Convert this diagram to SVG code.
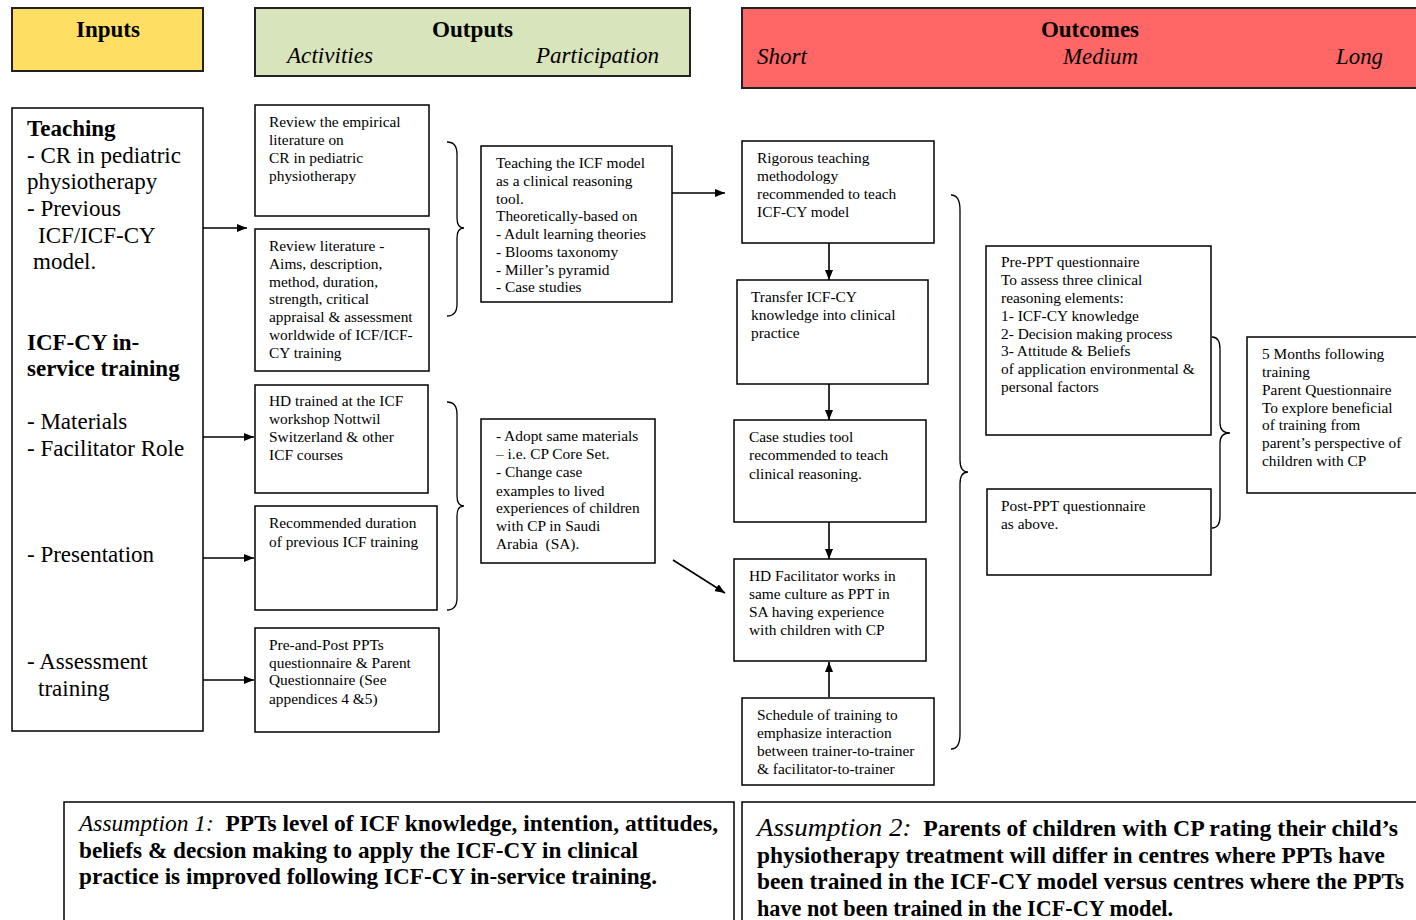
<svg xmlns="http://www.w3.org/2000/svg" width="1416" height="920" viewBox="0 0 1416 920">
<defs>
<marker id="ah" markerWidth="10" markerHeight="8" refX="10" refY="4" orient="auto" markerUnits="userSpaceOnUse">
<path d="M0,0 L10,4 L0,8 Z" fill="#000"/>
</marker>
<style>
.box{fill:#fff;stroke:#000;stroke-width:1.5}
.hdr{stroke:#222;stroke-width:2}
.t{font-family:"Liberation Serif","Times New Roman",serif;font-size:15.4px;fill:#000}
.big{font-family:"Liberation Serif","Times New Roman",serif;font-size:23px;fill:#000}
.bb{font-weight:bold}
.h{font-family:"Liberation Serif","Times New Roman",serif;font-size:24px;fill:#000}
.i{font-style:italic}
.ln{stroke:#000;stroke-width:1.6;fill:none}
.br{stroke:#000;stroke-width:1.3;fill:none}
.as{font-family:"Liberation Serif","Times New Roman",serif;font-size:23px;font-weight:bold;fill:#000}
.pre{white-space:pre}
</style>
</defs>
<rect width="1416" height="920" fill="#fff"/>

<g id="hdr-inputs">
<rect x="12" y="8" width="191" height="63" fill="#FFDF63" class="hdr"/>
<text class="h bb" x="76" y="37" textLength="64" lengthAdjust="spacingAndGlyphs">Inputs</text>
</g>
<g id="hdr-outputs">
<rect x="255" y="8" width="435" height="68" fill="#D8E4BC" class="hdr"/>
<text class="h bb" x="432" y="37" textLength="81" lengthAdjust="spacingAndGlyphs">Outputs</text>
<text class="h i" x="287" y="63" textLength="86" lengthAdjust="spacingAndGlyphs">Activities</text>
<text class="h i" x="536" y="63" textLength="123" lengthAdjust="spacingAndGlyphs">Participation</text>
</g>
<g id="hdr-outcomes">
<rect x="742" y="8" width="690" height="80" fill="#FF6666" class="hdr"/>
<text class="h bb" x="1041" y="37" textLength="98" lengthAdjust="spacingAndGlyphs">Outcomes</text>
<text class="h i" x="757" y="64" textLength="50" lengthAdjust="spacingAndGlyphs">Short</text>
<text class="h i" x="1063" y="64" textLength="75" lengthAdjust="spacingAndGlyphs">Medium</text>
<text class="h i" x="1336" y="64" textLength="47" lengthAdjust="spacingAndGlyphs">Long</text>
</g>

<g id="inputs">
<rect x="12" y="108" width="191" height="623" class="box"/>
<text class="big bb" x="27" y="136">Teaching</text>
<text class="big" x="27" y="163">- CR in pediatric</text>
<text class="big" x="27" y="189">physiotherapy</text>
<text class="big" x="27" y="216">- Previous</text>
<text class="big" x="38" y="243">ICF/ICF-CY</text>
<text class="big" x="33" y="269">model.</text>
<text class="big bb" x="27" y="350">ICF-CY in-</text>
<text class="big bb" x="27" y="376">service training</text>
<text class="big" x="27" y="429">- Materials</text>
<text class="big" x="27" y="456">- Facilitator Role</text>
<text class="big" x="27" y="562">- Presentation</text>
<text class="big" x="27" y="669">- Assessment</text>
<text class="big" x="38" y="696">training</text>
</g>

<g id="act1">
<rect x="255" y="105" width="174" height="111" class="box"/>
<text class="t" x="269" y="127">Review the empirical</text>
<text class="t" x="269" y="145">literature on</text>
<text class="t" x="269" y="163">CR in pediatric</text>
<text class="t" x="269" y="181">physiotherapy</text>
</g>
<g id="act2">
<rect x="255" y="229" width="174" height="142" class="box"/>
<text class="t" x="269" y="251">Review literature -</text>
<text class="t" x="269" y="269">Aims, description,</text>
<text class="t" x="269" y="287">method, duration,</text>
<text class="t" x="269" y="304">strength, critical</text>
<text class="t" x="269" y="322">appraisal &amp; assessment</text>
<text class="t" x="269" y="340">worldwide of ICF/ICF-</text>
<text class="t" x="269" y="358">CY training</text>
</g>
<g id="act3">
<rect x="255" y="385" width="173" height="108" class="box"/>
<text class="t" x="269" y="406">HD trained at the ICF</text>
<text class="t" x="269" y="424">workshop Nottwil</text>
<text class="t" x="269" y="442">Switzerland &amp; other</text>
<text class="t" x="269" y="460">ICF courses</text>
</g>
<g id="act4">
<rect x="255" y="506" width="182" height="104" class="box"/>
<text class="t" x="269" y="528">Recommended duration</text>
<text class="t" x="269" y="547">of previous ICF training</text>
</g>
<g id="act5">
<rect x="255" y="628" width="184" height="104" class="box"/>
<text class="t" x="269" y="650">Pre-and-Post PPTs</text>
<text class="t" x="269" y="668">questionnaire &amp; Parent</text>
<text class="t" x="269" y="685">Questionnaire (See</text>
<text class="t" x="269" y="704">appendices 4 &amp;5)</text>
</g>

<g id="part1">
<rect x="481" y="146" width="191" height="156" class="box"/>
<text class="t" x="496" y="168">Teaching the ICF model</text>
<text class="t" x="496" y="186">as a clinical reasoning</text>
<text class="t" x="496" y="204">tool.</text>
<text class="t" x="496" y="221">Theoretically-based on</text>
<text class="t" x="496" y="239">- Adult learning theories</text>
<text class="t" x="496" y="257">- Blooms taxonomy</text>
<text class="t" x="496" y="275">- Miller’s pyramid</text>
<text class="t" x="496" y="292">- Case studies</text>
</g>
<g id="part2">
<rect x="481" y="419" width="174" height="144" class="box"/>
<text class="t" x="496" y="441">- Adopt same materials</text>
<text class="t" x="496" y="459">– i.e. CP Core Set.</text>
<text class="t" x="496" y="477">- Change case</text>
<text class="t" x="496" y="496">examples to lived</text>
<text class="t" x="496" y="513">experiences of children</text>
<text class="t" x="496" y="531">with CP in Saudi</text>
<text class="t pre" x="496" y="549">Arabia  (SA).</text>
</g>

<g id="short1">
<rect x="742" y="141" width="192" height="102" class="box"/>
<text class="t" x="757" y="163">Rigorous teaching</text>
<text class="t" x="757" y="181">methodology</text>
<text class="t" x="757" y="199">recommended to teach</text>
<text class="t" x="757" y="217">ICF-CY model</text>
</g>
<g id="short2">
<rect x="737" y="280" width="191" height="104" class="box"/>
<text class="t" x="751" y="302">Transfer ICF-CY</text>
<text class="t" x="751" y="320">knowledge into clinical</text>
<text class="t" x="751" y="338">practice</text>
</g>
<g id="short3">
<rect x="734" y="420" width="192" height="102" class="box"/>
<text class="t" x="749" y="442">Case studies tool</text>
<text class="t" x="749" y="460">recommended to teach</text>
<text class="t" x="749" y="479">clinical reasoning.</text>
</g>
<g id="short4">
<rect x="734" y="559" width="192" height="102" class="box"/>
<text class="t" x="749" y="581">HD Facilitator works in</text>
<text class="t" x="749" y="599">same culture as PPT in</text>
<text class="t" x="749" y="617">SA having experience</text>
<text class="t" x="749" y="635">with children with CP</text>
</g>
<g id="short5">
<rect x="742" y="698" width="192" height="87" class="box"/>
<text class="t" x="757" y="720">Schedule of training to</text>
<text class="t" x="757" y="738">emphasize interaction</text>
<text class="t" x="757" y="756">between trainer-to-trainer</text>
<text class="t" x="757" y="774">&amp; facilitator-to-trainer</text>
</g>

<g id="medium1">
<rect x="986" y="246" width="225" height="189" class="box"/>
<text class="t" x="1001" y="267">Pre-PPT questionnaire</text>
<text class="t" x="1001" y="285">To assess three clinical</text>
<text class="t" x="1001" y="303">reasoning elements:</text>
<text class="t" x="1001" y="321">1- ICF-CY knowledge</text>
<text class="t" x="1001" y="339">2- Decision making process</text>
<text class="t" x="1001" y="356">3- Attitude &amp; Beliefs</text>
<text class="t" x="1001" y="374">of application environmental &amp;</text>
<text class="t" x="1001" y="392">personal factors</text>
</g>
<g id="medium2">
<rect x="987" y="489" width="224" height="86" class="box"/>
<text class="t" x="1001" y="511">Post-PPT questionnaire</text>
<text class="t" x="1001" y="529">as above.</text>
</g>
<g id="long1">
<rect x="1247" y="337" width="180" height="156" class="box"/>
<text class="t" x="1262" y="359">5 Months following</text>
<text class="t" x="1262" y="377">training</text>
<text class="t" x="1262" y="395">Parent Questionnaire</text>
<text class="t" x="1262" y="413">To explore beneficial</text>
<text class="t" x="1262" y="430">of training from</text>
<text class="t" x="1262" y="448">parent’s perspective of</text>
<text class="t" x="1262" y="466">children with CP</text>
</g>

<g id="assumption1">
<rect x="64" y="802" width="670" height="140" class="box"/>
<text class="as pre" x="79" y="831" textLength="639" lengthAdjust="spacingAndGlyphs"><tspan font-style="italic" font-weight="normal">Assumption 1:</tspan>  PPTs level of ICF knowledge, intention, attitudes,</text>
<text class="as" x="79" y="858" textLength="559" lengthAdjust="spacingAndGlyphs">beliefs &amp; decsion making to apply the ICF-CY in clinical</text>
<text class="as" x="79" y="884" textLength="578" lengthAdjust="spacingAndGlyphs">practice is improved following ICF-CY in-service training.</text>
</g>
<g id="assumption2">
<rect x="742" y="802" width="690" height="140" class="box"/>
<text class="as pre" x="757" y="836" textLength="641" lengthAdjust="spacingAndGlyphs"><tspan font-style="italic" font-weight="normal" font-size="26px">Assumption 2:</tspan>  Parents of children with CP rating their child’s</text>
<text class="as" x="757" y="863" textLength="628" lengthAdjust="spacingAndGlyphs">physiotherapy treatment will differ in centres where PPTs have</text>
<text class="as" x="757" y="889" textLength="647" lengthAdjust="spacingAndGlyphs">been trained in the ICF-CY model versus centres where the PPTs</text>
<text class="as" x="757" y="916" textLength="416" lengthAdjust="spacingAndGlyphs">have not been trained in the ICF-CY model.</text>
</g>

<g id="connectors">
<line class="ln" x1="203" y1="228" x2="247" y2="228" marker-end="url(#ah)"/>
<line class="ln" x1="203" y1="437" x2="254" y2="437" marker-end="url(#ah)"/>
<line class="ln" x1="203" y1="558" x2="254" y2="558" marker-end="url(#ah)"/>
<line class="ln" x1="203" y1="680" x2="254" y2="680" marker-end="url(#ah)"/>
<line class="ln" x1="672" y1="193" x2="725" y2="193" marker-end="url(#ah)"/>
<line class="ln" x1="673" y1="560" x2="725" y2="593" marker-end="url(#ah)"/>
<line class="ln" x1="829" y1="243" x2="829" y2="280" marker-end="url(#ah)"/>
<line class="ln" x1="829" y1="384" x2="829" y2="420" marker-end="url(#ah)"/>
<line class="ln" x1="829" y1="522" x2="829" y2="559" marker-end="url(#ah)"/>
<line class="ln" x1="829" y1="697" x2="829" y2="662" marker-end="url(#ah)"/>
<path class="br" d="M447,142 Q457,142 457,154 L457,218 Q457,228 464,228 Q457,228 457,238 L457,304 Q457,316 447,316"/>
<path class="br" d="M447,402 Q457,402 457,414 L457,496 Q457,506 464,506 Q457,506 457,516 L457,598 Q457,610 447,610"/>
<path class="br" d="M951,195 Q960,195 960,210 L960,460 Q960,472 968,472 Q960,472 960,484 L960,734 Q960,749 951,749"/>
<path class="br" d="M1212,337 Q1220,337 1220,349 L1220,423 Q1220,433 1230,433 Q1220,433 1220,443 L1220,516 Q1220,528 1212,528"/>
</g>
</svg>
